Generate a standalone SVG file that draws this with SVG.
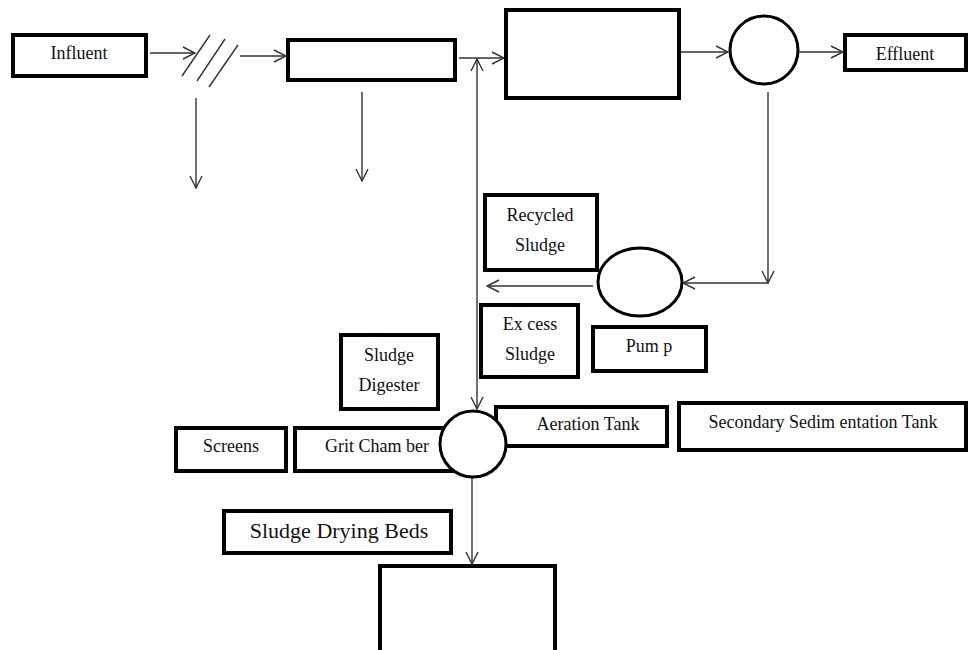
<svg xmlns="http://www.w3.org/2000/svg" width="968" height="650" viewBox="0 0 968 650">
<defs>
<style>
.box{fill:#fff;stroke:#000;stroke-width:4}
.circ{fill:#fff;stroke:#000;stroke-width:3}
.ln{fill:none;stroke:#333;stroke-width:1.4}
.t{font-family:"Liberation Serif","Times New Roman",serif;font-size:18px;fill:#111;text-anchor:middle}
.tl{font-size:22px}
</style>
<marker id="ah" viewBox="0 0 14 14" refX="13" refY="7" markerWidth="14" markerHeight="14" markerUnits="userSpaceOnUse" orient="auto">
<polyline points="1,1 13,7 1,13" fill="none" stroke="#333" stroke-width="1.4"/>
</marker>
</defs>
<rect width="968" height="650" fill="#fff"/>
<g id="connectors">
<line class="ln" x1="150" y1="53" x2="195" y2="53" marker-end="url(#ah)"/>
<line class="ln" x1="182" y1="76" x2="210" y2="35" stroke="#000"/>
<line class="ln" x1="197" y1="81" x2="225" y2="39"/>
<line class="ln" x1="209" y1="87" x2="238" y2="45"/>
<line class="ln" x1="240" y1="56" x2="286" y2="56" marker-end="url(#ah)"/>
<line class="ln" x1="196" y1="98" x2="196" y2="188" marker-end="url(#ah)"/>
<line class="ln" x1="362" y1="92" x2="362" y2="181" marker-end="url(#ah)"/>
<line class="ln" x1="459" y1="58" x2="504" y2="58" marker-end="url(#ah)"/>
<line class="ln" x1="477" y1="230" x2="477" y2="59" marker-end="url(#ah)"/>
<line class="ln" x1="477" y1="230" x2="477" y2="409" marker-end="url(#ah)"/>
<line class="ln" x1="680" y1="52" x2="728" y2="52" marker-end="url(#ah)"/>
<line class="ln" x1="799" y1="52" x2="843" y2="52" marker-end="url(#ah)"/>
<line class="ln" x1="768" y1="92" x2="768" y2="283" marker-end="url(#ah)"/>
<line class="ln" x1="768" y1="283" x2="683" y2="283" marker-end="url(#ah)"/>
<line class="ln" x1="593" y1="286" x2="487" y2="286" marker-end="url(#ah)"/>
<line class="ln" x1="472" y1="477" x2="472" y2="564" marker-end="url(#ah)"/>
</g>
<g id="influent"><rect class="box" x="13" y="35" width="133" height="41"/><text class="t" x="79" y="59">Influent</text></g>
<g id="grit-box"><rect class="box" x="288" y="40" width="167" height="40"/></g>
<g id="aeration-box"><rect class="box" x="506" y="10" width="173" height="88"/></g>
<g id="clarifier"><circle class="circ" cx="764" cy="50" r="34"/></g>
<g id="effluent"><rect class="box" x="845" y="35" width="121" height="35"/><text class="t" x="905" y="60">Effluent</text></g>
<g id="recycled-sludge"><rect class="box" x="485" y="195" width="112" height="75"/><text class="t" x="540" y="221">Recycled</text><text class="t" x="540" y="251">Sludge</text></g>
<g id="pump"><ellipse class="circ" cx="640" cy="282" rx="42" ry="34"/></g>
<g id="excess-sludge"><rect class="box" x="481" y="305" width="97" height="72"/><text class="t" x="530" y="330">Ex cess</text><text class="t" x="530" y="360">Sludge</text></g>
<g id="pump-label"><rect class="box" x="593" y="327" width="113" height="44"/><text class="t" x="649" y="352">Pum p</text></g>
<g id="sludge-digester"><rect class="box" x="341" y="335" width="97" height="74"/><text class="t" x="389" y="361">Sludge</text><text class="t" x="389" y="391">Digester</text></g>
<g id="screens"><rect class="box" x="176" y="428" width="110" height="43"/><text class="t" x="231" y="452">Screens</text></g>
<g id="grit-chamber"><rect class="box" x="295" y="428" width="160" height="43"/><text class="t" x="377" y="452">Grit Cham ber</text></g>
<g id="aeration-tank"><rect class="box" x="496" y="407" width="171" height="39"/><text class="t" x="588" y="430">Aeration Tank</text></g>
<g id="digester"><circle class="circ" cx="473" cy="444" r="33"/></g>
<g id="secondary-sedimentation-tank"><rect class="box" x="679" y="403" width="287" height="47"/><text class="t" x="823" y="428">Secondary Sedim entation Tank</text></g>
<g id="sludge-drying-beds"><rect class="box" x="224" y="511" width="227" height="42"/><text class="t tl" x="339" y="538">Sludge Drying Beds</text></g>
<g id="drying-bed"><rect class="box" x="380" y="566" width="175" height="100"/></g>
</svg>
